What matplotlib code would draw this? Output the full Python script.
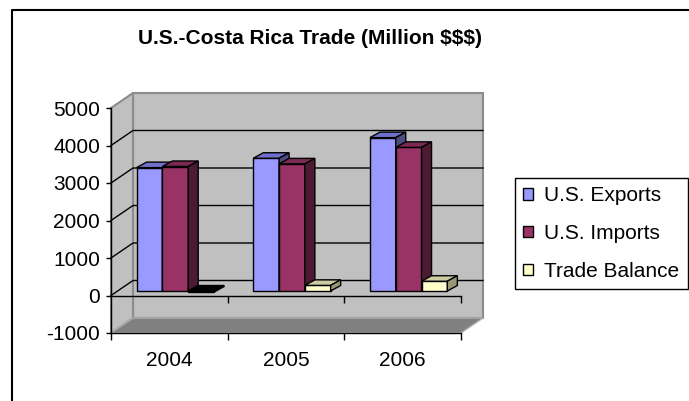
import matplotlib
matplotlib.use('Agg')
import matplotlib.pyplot as plt
from matplotlib.patches import Polygon, Patch
from matplotlib.lines import Line2D

plt.rcParams['font.family'] = ['Liberation Sans', 'DejaVu Sans']
plt.rcParams['axes.unicode_minus'] = False

# data (million $)
years = ['2004', '2005', '2006']
series = ['U.S. Exports', 'U.S. Imports', 'Trade Balance']
exports = [3290, 3540, 4090]
imports = [3320, 3390, 3830]
balance = [-30, 150, 260]
yticks = [-1000, 0, 1000, 2000, 3000, 4000, 5000]

face = ['#9999FF', '#993366', '#FFFFCC']
top = ['#7070CC', '#7A2952', '#CCCCA3']
side = ['#4C4C80', '#4D1A33', '#99997A']

W, H = 689, 401
fig = plt.figure(figsize=(W / 100, H / 100), dpi=100)
ax = fig.add_axes([111 / W, 1 - 333 / H, 350 / W, 225 / H])
n = len(years)
ymin, ymax = yticks[0], yticks[-1]
ax.set_xlim(0, n)
ax.set_ylim(ymin, ymax)
ax.patch.set_visible(False)

# fake 3d: depth of the walls, in data units
DX = 22 / 350 * n
DY = 15 / 225 * (ymax - ymin)

# back wall, side wall, floor
ax.add_patch(Polygon([(DX, ymin + DY), (n + DX, ymin + DY), (n + DX, ymax + DY), (DX, ymax + DY)],
                     closed=True, fc='#C0C0C0', ec='#8C8C8C', lw=1.5, clip_on=False, zorder=0))
ax.add_patch(Polygon([(0, ymin), (DX, ymin + DY), (DX, ymax + DY), (0, ymax)],
                     closed=True, fc='#C0C0C0', ec='#8C8C8C', lw=1.5, clip_on=False, zorder=0.1))
ax.add_patch(Polygon([(0, ymin), (n, ymin), (n + DX, ymin + DY), (DX, ymin + DY)],
                     closed=True, fc='#808080', ec='#B0B0B0', lw=1, clip_on=False, zorder=0.2))

# gridlines on the walls
for v in yticks[1:-1]:
    ax.plot([0, DX, n + DX], [v, v + DY, v + DY], color='black', lw=1, clip_on=False, zorder=0.5)

# category axis at zero
tl = 7 / 225 * (ymax - ymin)
ax.plot([0, n], [0, 0], color='black', lw=1, clip_on=False, zorder=3)
ax.vlines(range(1, n + 1), -tl, 0, color='black', lw=1, clip_on=False, zorder=3)

# bars
gw = 0.221
FX, FY = 0.051, 120
BX, BY = 0.086, 147
vals = [exports, imports, balance]
for c in range(n):
    for i in range(len(series)):
        v = vals[i][c]
        z = 1 + c * 0.1 + i * 0.01
        x0 = c + 0.5 - 1.5 * gw + i * gw + FX
        lo, hi = min(0, v) + FY, max(0, v) + FY
        neg = v < 0
        ax.bar(x0, v, width=gw, bottom=FY, align='edge', color='black' if neg else face[i],
               edgecolor='black', lw=1, zorder=z, clip_on=False)
        ax.add_patch(Polygon([(x0, hi), (x0 + gw, hi), (x0 + gw + BX, hi + BY), (x0 + BX, hi + BY)],
                             closed=True, fc='black' if neg else top[i], ec='black', lw=1,
                             zorder=z, clip_on=False))
        ax.add_patch(Polygon([(x0 + gw, lo), (x0 + gw + BX, lo + BY), (x0 + gw + BX, hi + BY), (x0 + gw, hi)],
                             closed=True, fc='black' if neg else side[i], ec='black', lw=1,
                             zorder=z, clip_on=False))

# axes
for s in ['top', 'right']:
    ax.spines[s].set_visible(False)
for s in ['left', 'bottom']:
    ax.spines[s].set_color('black')
    ax.spines[s].set_linewidth(1)
    ax.spines[s].set_zorder(3)
ax.set_yticks(yticks)
ax.tick_params(axis='y', length=3.6, width=1, pad=4.3, labelsize=15, colors='black')
ax.set_xticks(range(n + 1))
ax.set_xticklabels([])
ax.set_xticks([c + 0.5 for c in range(n)], minor=True)
ax.set_xticklabels(years, minor=True)
ax.tick_params(axis='x', which='major', length=5, width=1, direction='out')
ax.tick_params(axis='x', which='minor', length=0, pad=13, labelsize=15)

# legend
handles = [Patch(fc=face[i], ec='black', lw=1) for i in range(len(series))]
leg = fig.legend(handles, series, loc='upper left', bbox_to_anchor=(515 / W, 1 - 178 / H),
                 fontsize=15, frameon=True, fancybox=False, edgecolor='black', framealpha=1,
                 borderpad=0.4, handlelength=0.45, handleheight=0.45, handletextpad=0.55,
                 labelspacing=0.9, borderaxespad=0)
leg.get_frame().set_linewidth(1)

fig.text(310.5 / W, 1 - 44 / H, 'U.S.-Costa Rica Trade (Million $$$)', ha='center', va='baseline',
         fontsize=15, fontweight='bold', parse_math=False)

# chart border
fig.add_artist(Line2D([11.5 / W, 11.5 / W, 1], [0, 1 - 9.5 / H, 1 - 9.5 / H], color='black', lw=1.5))

fig.savefig('out.png', dpi=100)
